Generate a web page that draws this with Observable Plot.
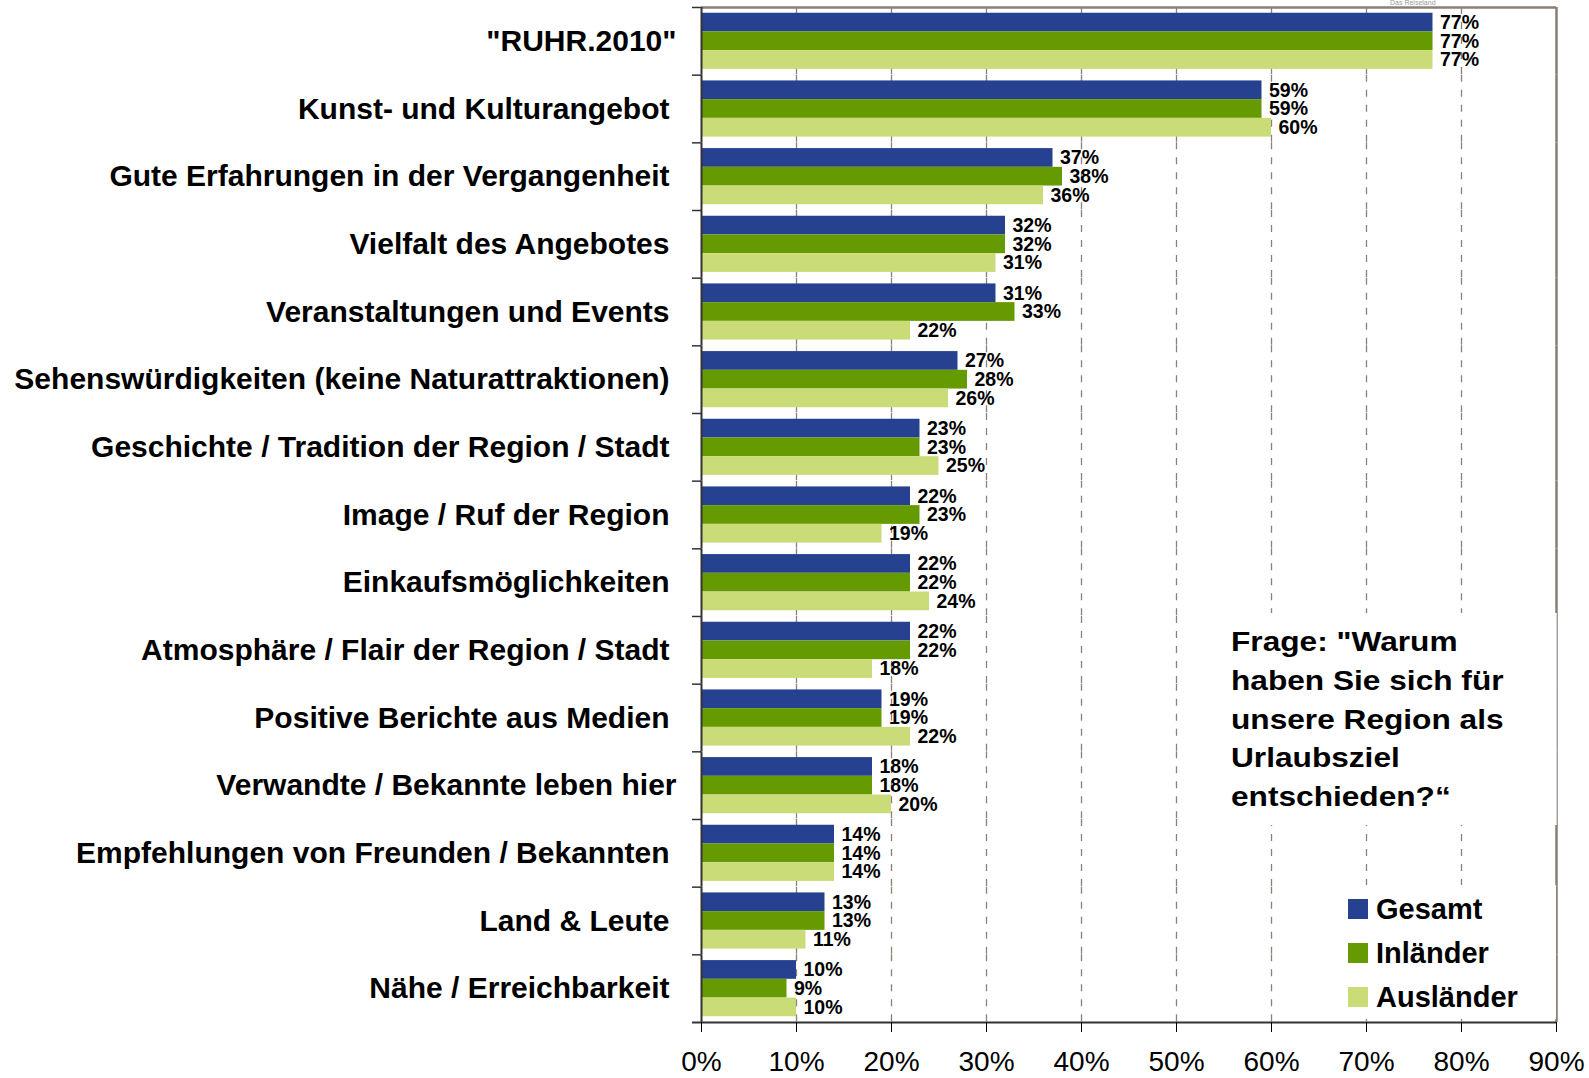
<!DOCTYPE html>
<html><head><meta charset="utf-8">
<script src="https://cdn.jsdelivr.net/npm/d3@7"></script>
<script src="https://cdn.jsdelivr.net/npm/@observablehq/plot@0.6"></script>
<style>
body{margin:0;background:#fff;}
#wrap{position:relative;width:1589px;height:1078px;overflow:hidden;font-family:"Liberation Sans",Arial,sans-serif;color:#000;}
#wrap svg{position:absolute;left:0;top:0;}
#question{position:absolute;left:1215px;top:613px;width:342px;height:212px;box-sizing:border-box;background:#fff;border-right:1px solid #d4d4d4;padding:10px 0 0 16px;}
#qtext{font-weight:bold;font-size:28px;line-height:38.8px;white-space:nowrap;transform:scaleX(1.13);transform-origin:0 0;}
#legend{position:absolute;left:1290px;top:885px;width:266px;height:134px;background:#fff;}
.lg{position:absolute;left:58px;height:44px;display:flex;align-items:center;font-weight:bold;font-size:29px;}
.sw{width:20px;height:20px;margin-right:8px;}
#logo{position:absolute;left:1390px;top:-1px;font-size:7px;line-height:8px;color:#999;}
</style></head>
<body>
<div id="wrap"></div>
<script>
const categories = ['"RUHR.2010"', "Kunst- und Kulturangebot", "Gute Erfahrungen in der Vergangenheit", "Vielfalt des Angebotes", "Veranstaltungen und Events", "Sehenswürdigkeiten (keine Naturattraktionen)", "Geschichte / Tradition der Region / Stadt", "Image / Ruf der Region", "Einkaufsmöglichkeiten", "Atmosphäre / Flair der Region / Stadt", "Positive Berichte aus Medien", "Verwandte / Bekannte leben hier", "Empfehlungen von Freunden / Bekannten", "Land & Leute", "Nähe / Erreichbarkeit"];
const shiftedLabels = ['"RUHR.2010"', "Verwandte / Bekannte leben hier"]; // these sit a little further right in the original
const series = ["Gesamt", "Inländer", "Ausländer"];
const gesamt     = [77, 59, 37, 32, 31, 27, 23, 22, 22, 22, 19, 18, 14, 13, 10];
const inlaender  = [77, 59, 38, 32, 33, 28, 23, 23, 22, 22, 19, 18, 14, 13, 9];
const auslaender = [77, 60, 36, 31, 22, 26, 25, 19, 24, 18, 22, 20, 14, 11, 10];
const xTicks = [0, 10, 20, 30, 40, 50, 60, 70, 80, 90];
const colors = ["#26418f", "#659a00", "#cadc78"];
const questionLines = ['Frage: "Warum', "haben Sie sich für", "unsere Region als", "Urlaubsziel", "entschieden?“"];

const values = [gesamt, inlaender, auslaender];
const data = categories.flatMap((c, i) => series.map((s, j) => ({cat: c, series: s, value: values[j][i]})));
const firstCat = categories[0];
const lastCat = categories[categories.length - 1];
const half = 5.75;   // half of the gap between groups
const barHalf = 9.37; // half of one bar's height
const labelStyle = {fy: d => d, text: d => d, frameAnchor: "left", textAnchor: "end", fontSize: 30, fontWeight: "bold", fill: "#000"};

const plot = Plot.plot({
  width: 1589, height: 1078,
  marginTop: 7, marginBottom: 56, marginLeft: 701, marginRight: 33,
  style: {fontFamily: '"Liberation Sans", Arial, sans-serif', background: "transparent", color: "#000", overflow: "visible"},
  x: {domain: [0, 90]},
  y: {domain: series, padding: 0, round: false, axis: null},
  fy: {domain: categories, paddingInner: 0.17, paddingOuter: 0.085, round: false, axis: null},
  color: {domain: series, range: colors},
  marks: [
    Plot.ruleX(xTicks.slice(1, -1), {stroke: "#8c8078", strokeWidth: 1.3, strokeDasharray: "7,8", insetTop: -half, insetBottom: -half}),
    Plot.ruleX([90], {stroke: "#8a7e76", strokeWidth: 2.5, insetTop: -half, insetBottom: -half}),
    Plot.ruleY([firstCat], {fy: d => d, y: () => "Gesamt", x1: 0, x2: 90, dy: -(barHalf + half), stroke: "#8a7e76", strokeWidth: 2.5}),
    Plot.barX(data, {fy: "cat", y: "series", x: "value", fill: "series"}),
    Plot.text(data, {fy: "cat", y: "series", x: "value", text: d => d.value + "%", textAnchor: "start", dx: 7, fontSize: 19.5, fontWeight: "bold", fill: "#000"}),
    Plot.text(categories.filter(c => !shiftedLabels.includes(c)), {...labelStyle, dx: -32}),
    Plot.text(shiftedLabels, {...labelStyle, dx: -25}),
    Plot.ruleY(categories, {fy: d => d, y: () => "Gesamt", x1: 0, x2: 0, insetLeft: -9, dy: -(barHalf + half), stroke: "#333", strokeWidth: 1.5}),
    Plot.ruleX([0], {stroke: "#333", strokeWidth: 2, insetTop: -half, insetBottom: -half}),
    Plot.ruleY([lastCat], {fy: d => d, y: () => "Ausländer", x1: 0, x2: 90, insetLeft: -9, dy: barHalf + half, stroke: "#333", strokeWidth: 2}),
    Plot.axisX({ticks: xTicks, tickFormat: d => d + "%", tickSize: 10, tickPadding: 19, dy: half, fontSize: 28, label: null, stroke: "#000", fill: "#000"})
  ]
});
const wrap = document.getElementById("wrap");
wrap.append(plot);

const q = document.createElement("div");
q.id = "question";
const qt = document.createElement("div");
qt.id = "qtext";
questionLines.forEach((l, i) => {
  if (i) qt.append(document.createElement("br"));
  qt.append(document.createTextNode(l));
});
q.append(qt);
wrap.append(q);

const lg = document.createElement("div");
lg.id = "legend";
series.forEach((s, j) => {
  const row = document.createElement("div");
  row.className = "lg";
  row.style.top = (2 + j * 44) + "px";
  const sw = document.createElement("div");
  sw.className = "sw";
  sw.style.background = colors[j];
  row.append(sw, document.createTextNode(s));
  lg.append(row);
});
wrap.append(lg);

const logo = document.createElement("div");
logo.id = "logo";
logo.textContent = "Das Reiseland";
wrap.append(logo);
</script>
</body></html>
